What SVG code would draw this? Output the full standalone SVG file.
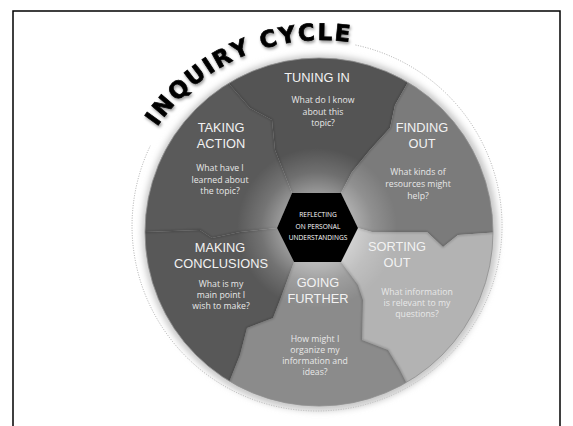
<svg xmlns="http://www.w3.org/2000/svg" width="573" height="426" viewBox="0 0 573 426">
<style>
.h{font-family:"Liberation Sans",Arial,sans-serif;font-size:12.8px;fill:#f2f2f2;text-anchor:middle}
.b{font-family:"Open Sans","Liberation Sans",sans-serif;font-size:8.7px;fill:#e8e8e8;text-anchor:middle}
.c{font-family:"Open Sans","Liberation Sans",sans-serif;font-size:6.6px;fill:#fff;text-anchor:middle}
.t{font-family:"DejaVu Sans","Liberation Sans",sans-serif;font-weight:bold;font-size:23px;fill:#000;stroke:#000;stroke-width:0.7px;text-anchor:middle}
.edge{fill:none;stroke:#000;stroke-opacity:.25;stroke-width:1.6;stroke-linejoin:round}
</style>
<defs>
<clipPath id="disk"><circle cx="319" cy="232" r="174"/></clipPath>
<radialGradient id="glow" cx="317" cy="228" r="80" gradientUnits="userSpaceOnUse">
<stop offset="0.42" stop-color="#fff" stop-opacity="0.42"/>
<stop offset="0.7" stop-color="#fff" stop-opacity="0.16"/>
<stop offset="1" stop-color="#fff" stop-opacity="0"/>
</radialGradient>
<filter id="blur3" x="-20%" y="-20%" width="140%" height="140%"><feGaussianBlur stdDeviation="3"/></filter>
<filter id="blur1" x="-10%" y="-10%" width="120%" height="120%"><feGaussianBlur stdDeviation="0.9"/></filter>
<filter id="tshadow" x="-10%" y="-10%" width="120%" height="130%">
<feGaussianBlur in="SourceAlpha" stdDeviation="1.5"/>
<feOffset dx="1" dy="1.5" result="o"/>
<feFlood flood-color="#000" flood-opacity="0.4"/>
<feComposite in2="o" operator="in"/>
<feMerge><feMergeNode/><feMergeNode in="SourceGraphic"/></feMerge>
</filter>
</defs>

<rect x="0" y="0" width="573" height="426" fill="#fff"/>
<rect x="13" y="11" width="547" height="430" fill="none" stroke="#000" stroke-width="1.5"/>

<!-- dotted outer circle -->
<path d="M 355.5 45 A 185 185 0 1 1 150.3 145.8" fill="none" stroke="#8a8a8a" stroke-width="0.7" stroke-dasharray="1 1.5"/>

<!-- disk rim shadow -->
<circle cx="320" cy="233" r="178" fill="#c8c8c8" filter="url(#blur3)"/>

<g id="sections" clip-path="url(#disk)">
<g id="tuning-in-bg"><polygon fill="#545454" points="292,193 275,150 272,120 250,108 230,85 215,50 215,20 415,20 415,50 407,84 395,105 390,128 370,150 352,172 341,193"/></g>
<g id="finding-out-bg"><polygon fill="#7b7b7b" points="341,193 352,172 370,150 390,128 395,105 407,84 415,50 415,20 520,20 520,232 500,232 458,235 443,247 427,232 372,232 358,228"/></g>
<g id="sorting-out-bg"><polygon fill="#b3b3b3" points="358,228 372,232 427,232 443,247 458,235 500,232 520,232 520,440 420,440 420,420 415,400 400,370 388,350 362,340 363,300 358,285 341,262"/></g>
<g id="going-further-bg"><polygon fill="#8b8b8b" points="341,262 358,285 363,300 362,340 388,350 400,370 415,400 420,420 420,440 220,440 220,420 228,385 240,355 247,328 273,318 280,300 294,262"/></g>
<g id="making-conclusions-bg"><polygon fill="#585858" points="294,262 280,300 273,318 247,328 240,355 228,385 220,420 220,440 120,440 120,232 145,232 200,230 212,238 240,232 277,228"/></g>
<g id="taking-action-bg"><polygon fill="#5a5a5a" points="277,228 240,232 212,238 200,230 145,232 120,232 120,20 215,20 215,50 230,85 250,108 272,120 275,150 292,193"/></g>
<g id="edges" filter="url(#blur1)">
<polyline class="edge" points="292,193 275,150 272,120 250,108 230,85 215,50"/>
<polyline class="edge" points="341,193 352,172 370,150 390,128 395,105 407,84 415,50"/>
<polyline class="edge" points="358,228 372,232 427,232 443,247 458,235 500,232 520,232"/>
<polyline class="edge" points="341,262 358,285 363,300 362,340 388,350 400,370 415,400 420,420"/>
<polyline class="edge" points="294,262 280,300 273,318 247,328 240,355 228,385 220,420"/>
<polyline class="edge" points="277,228 240,232 212,238 200,230 145,232 120,232" stroke-opacity="0.15"/>
</g>
<circle cx="317" cy="228" r="80" fill="url(#glow)"/>
</g>
<circle cx="319" cy="232" r="174" fill="none" stroke="#8f8f8f" stroke-width="0.8"/>

<g id="title" filter="url(#tshadow)">
<text class="t" transform="translate(159.5,123.4) rotate(-54.33)">I</text>
<text class="t" transform="translate(169.3,110.9) rotate(-49.78)">N</text>
<text class="t" transform="translate(183.96,95.28) rotate(-43.65)">Q</text>
<text class="t" transform="translate(199.98,81.54) rotate(-37.6)">U</text>
<text class="t" transform="translate(212.72,72.5) rotate(-33.12)">I</text>
<text class="t" transform="translate(225.68,64.72) rotate(-28.79)">R</text>
<text class="t" transform="translate(242.92,56.3) rotate(-23.29)">Y</text>
<text class="t" transform="translate(270.06,46.86) rotate(-15.05)">C</text>
<text class="t" transform="translate(288.4,42.84) rotate(-9.67)">Y</text>
<text class="t" transform="translate(307,40.56) rotate(-4.3)">C</text>
<text class="t" transform="translate(324.76,40.02) rotate(0.79)">L</text>
<text class="t" transform="translate(341.9,41) rotate(5.71)">E</text>
</g>

<g id="tuning-in">
<text class="h" x="317" y="82">TUNING IN</text>
<text class="b" x="323" y="103">What do I know</text>
<text class="b" x="323" y="114.5">about this</text>
<text class="b" x="323" y="126">topic?</text>
</g>
<g id="finding-out">
<text class="h" x="422" y="131.5">FINDING</text>
<text class="h" x="422" y="148">OUT</text>
<text class="b" x="418" y="175">What kinds of</text>
<text class="b" x="418" y="187">resources might</text>
<text class="b" x="418" y="199">help?</text>
</g>
<g id="sorting-out">
<text class="h" x="397" y="250.5">SORTING</text>
<text class="h" x="397" y="266.5">OUT</text>
<text class="b" x="417" y="295">What information</text>
<text class="b" x="417" y="306">is relevant to my</text>
<text class="b" x="417" y="317">questions?</text>
</g>
<g id="going-further">
<text class="h" x="318" y="287">GOING</text>
<text class="h" x="318" y="303">FURTHER</text>
<text class="b" x="315" y="342">How might I</text>
<text class="b" x="315" y="353">organize my</text>
<text class="b" x="315" y="364">information and</text>
<text class="b" x="315" y="375">ideas?</text>
</g>
<g id="making-conclusions">
<text class="h" x="220" y="251.5">MAKING</text>
<text class="h" x="221" y="268">CONCLUSIONS</text>
<text class="b" x="221" y="287">What is my</text>
<text class="b" x="221" y="298">main point I</text>
<text class="b" x="221" y="309">wish to make?</text>
</g>
<g id="taking-action">
<text class="h" x="221" y="132">TAKING</text>
<text class="h" x="221" y="148">ACTION</text>
<text class="b" x="220" y="171">What have I</text>
<text class="b" x="220" y="182.5">learned about</text>
<text class="b" x="220" y="194">the topic?</text>
</g>
<g id="reflecting">
<polygon fill="#000" points="292,193 341,193 358,228 341,262 294,262 277,228"/>
<text class="c" x="318" y="217">REFLECTING</text>
<text class="c" x="318" y="228.5">ON PERSONAL</text>
<text class="c" x="318" y="240">UNDERSTANDINGS</text>
</g>
</svg>
